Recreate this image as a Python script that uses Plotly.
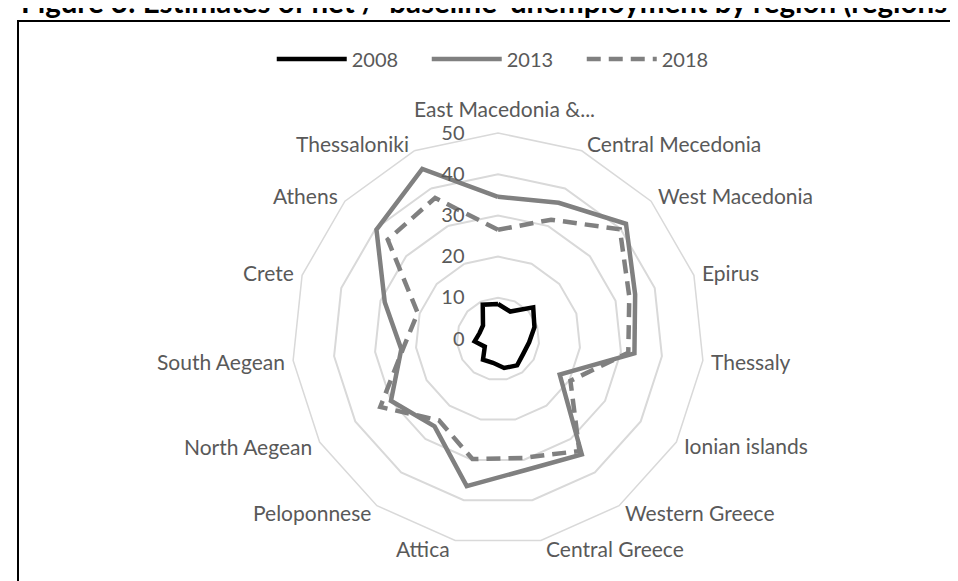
import math
import plotly.graph_objects as go

categories = ["East Macedonia &...", "Central Mecedonia", "West Macedonia", "Epirus",
              "Thessaly", "Ionian islands", "Western Greece", "Central Greece",
              "Attica", "Peloponnese", "North Aegean", "South Aegean", "Crete",
              "Athens", "Thessaloniki"]

v2008 = [8.5, 7.3, 11.5, 9.3, 7.6, 7.1, 7.9, 7.2, 5.9, 6.2, 3.7, 5.7, 4.7, 4.9, 9.1]
v2013 = [34.5, 36.2, 41.8, 35.0, 33.3, 17.3, 34.6, 32.5, 36.5, 26.2, 30.0, 23.6, 28.9, 39.7, 45.2]
v2018 = [26.5, 31.7, 39.8, 33.5, 31.8, 20.3, 33.6, 29.5, 29.8, 24.4, 33.0, 23.2, 20.5, 36.0, 37.5]

radial_ticks = [0, 10, 20, 30, 40, 50]

title_text = "Figure 3: Estimates of net / \u2018baseline\u2019 unemployment by region (regions"

FONT = "Lato, 'Open Sans', sans-serif"
GREY_TXT = "#595959"
GRID = "#d9d9d9"


def closed(vals):
    return vals + vals[:1]


theta = closed(categories)

fig = go.Figure()
fig.add_trace(go.Scatterpolar(r=closed(v2008), theta=theta, mode="lines", name="2008",
                              line=dict(color="#000000", width=4.5)))
fig.add_trace(go.Scatterpolar(r=closed(v2013), theta=theta, mode="lines", name="2013",
                              line=dict(color="#808080", width=4.5)))
fig.add_trace(go.Scatterpolar(r=closed(v2018), theta=theta, mode="lines", name="2018",
                              line=dict(color="#808080", width=4.5, dash="14px,8px")))

# polar geometry (pixels)
cx, cy, R = 490, 331, 206
W, H = 958, 581
RMAX = radial_ticks[-1]

# category labels placed beside the outer ring vertices, Excel style
label_annotations = []
n = len(categories)
for k, name in enumerate(categories):
    a = math.radians(360.0 * k / n)
    s, c = math.sin(a), math.cos(a)
    vx, vy = cx + R * s, cy - R * c
    if abs(s) < 0.05:
        xa, x = "center", vx + 7
        y = vy - 25 if c > 0 else vy + 20
    else:
        gap = 2 + 4 * abs(s)
        xa, x = ("left", vx + gap) if s > 0 else ("right", vx - gap)
        y = vy - 8 * c
    label_annotations.append(dict(text=name, xref="paper", yref="paper", x=x / W, y=1 - y / H,
                                  xanchor=xa, yanchor="middle", showarrow=False,
                                  font=dict(family=FONT, size=21, color=GREY_TXT)))

fig.update_layout(
    width=W, height=H,
    margin=dict(l=0, r=0, t=0, b=0),
    paper_bgcolor="white",
    plot_bgcolor="white",
    font=dict(family=FONT, size=20, color=GREY_TXT),
    showlegend=True,
    legend=dict(orientation="h", x=0.518, xanchor="center", y=1 - 51 / H, yanchor="middle",
                font=dict(size=20, color=GREY_TXT), itemwidth=70,
                entrywidth=70, entrywidthmode="pixels", bgcolor="rgba(0,0,0,0)"),
    polar=dict(
        domain=dict(x=[(cx - R) / W, (cx + R) / W], y=[1 - (cy + R) / H, 1 - (cy - R) / H]),
        bgcolor="white",
        gridshape="linear",
        radialaxis=dict(range=[0, RMAX], tickvals=radial_ticks, ticktext=[str(t) for t in radial_ticks],
                        angle=90, side="counterclockwise", showline=False, tickangle=90,
                        gridcolor=GRID, gridwidth=1.5, ticks="outside", ticklen=26,
                        tickcolor="rgba(0,0,0,0)",
                        tickfont=dict(size=20, color=GREY_TXT, family=FONT)),
        angularaxis=dict(categoryorder="array", categoryarray=categories,
                         direction="clockwise", rotation=90, showgrid=False,
                         showline=True, linecolor=GRID, linewidth=1.5,
                         ticks="", showticklabels=False),
    ),
    shapes=[dict(type="rect", xref="paper", yref="paper", x0=10 / W, x1=1.05,
                 y0=-0.05, y1=1 - 13 / H, line=dict(color="black", width=2),
                 fillcolor="rgba(0,0,0,0)", layer="above")],
    annotations=[dict(text="<b>" + title_text + "</b>", xref="paper", yref="paper",
                      x=11 / W, xanchor="left", y=1 + 6 / H, yanchor="middle", showarrow=False,
                      font=dict(family="Lato, sans-serif", size=29.5, color="black"))]
                + label_annotations,
)

fig.write_html("out.html")
